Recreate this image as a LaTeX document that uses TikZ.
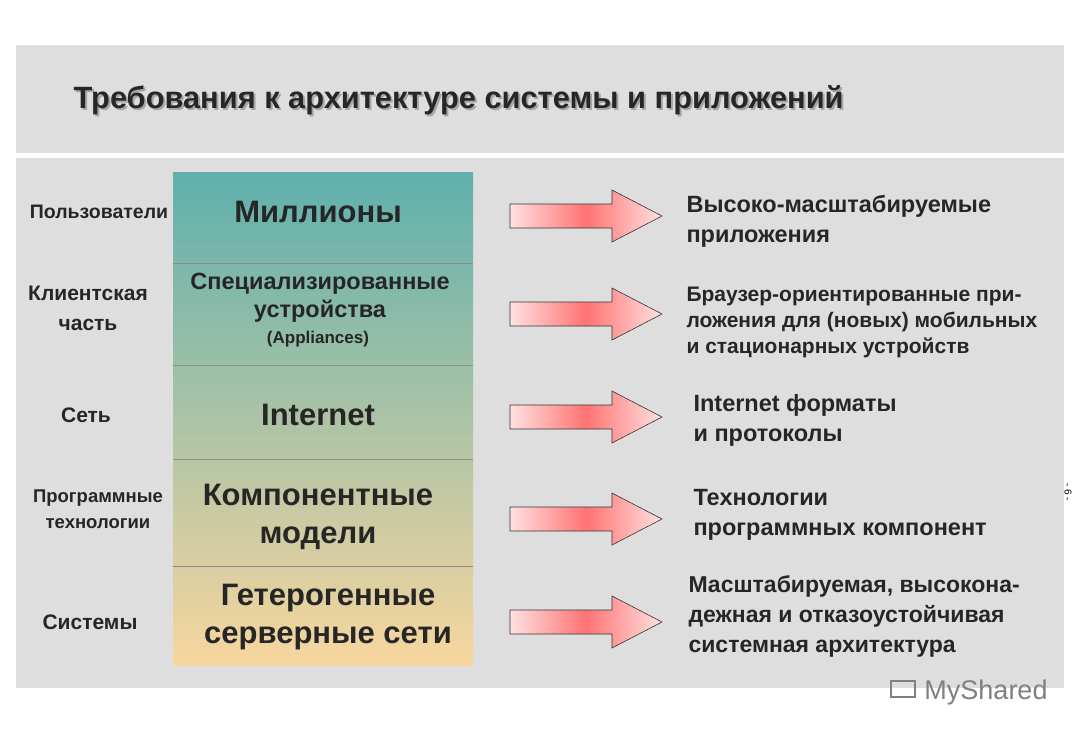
\documentclass[tikz,border=0pt]{standalone}
\usepackage{fontspec}
\setmainfont{Liberation Sans}
\begin{document}
\begin{tikzpicture}[x=1pt,y=-1pt,
  lab/.style={font=\bfseries\fontsize{20}{24}\selectfont, align=center, text=black!85},
  mid/.style={font=\bfseries\fontsize{31}{38}\selectfont, align=center, text=black!85},
  rtx/.style={font=\bfseries\fontsize{23.5}{30}\selectfont, align=left, anchor=west, text=black!85},
  row/.style={draw=black!45, line width=0.5pt},
  arr/.style={draw=black!80, line width=0.6pt, left color=red!12, right color=red!12, middle color=red!55}]
\useasboundingbox (0,0) rectangle (1080,740);
\fill[white] (0,0) rectangle (1080,740);
\fill[black!13] (16,45) rectangle (1064,153);
\fill[black!13] (16,158) rectangle (1064,688);
\node[anchor=west, text=black!35, font=\bfseries\fontsize{30.8}{34}\selectfont] at (72,102) {Требования к архитектуре системы и приложений};
\node[anchor=west, text=black!85, font=\bfseries\fontsize{30.8}{34}\selectfont] (title) at (70,100) {Требования к архитектуре системы и приложений};
% column
\shade[top color={rgb,255:red,95;green,176;blue,173}, bottom color={rgb,255:red,248;green,214;blue,158}] (173,172) rectangle (473,665);
\foreach \y in {263,365,459,566} \draw[row] (173,\y) -- (473,\y);
\node[mid] (m1) at (318,212) {Миллионы};
\node[font=\bfseries\fontsize{23.5}{28}\selectfont, align=center, text=black!85] (m2) at (320,298) {Специализированные\\ устройства};
\node[font=\bfseries\fontsize{17}{20}\selectfont, text=black!85] (m2b) at (318,339) {(Appliances)};
\node[mid] (m3) at (318,415) {Internet};
\node[mid] (m4) at (318,517) {Компонентные\\модели};
\node[mid] (m5) at (328,617) {Гетерогенные\\серверные сети};
% left labels
\node[lab, font=\bfseries\fontsize{19.5}{24}\selectfont] (l1) at (99,212) {Пользователи};
\node[lab, font=\bfseries\fontsize{21}{30}\selectfont] (l2) at (88,308) {Клиентская\\часть};
\node[lab, font=\bfseries\fontsize{21}{24}\selectfont] (l3) at (86,415) {Сеть};
\node[lab, font=\bfseries\fontsize{18.5}{26}\selectfont] (l4) at (98,509) {Программные\\технологии};
\node[lab, font=\bfseries\fontsize{21}{24}\selectfont] (l5) at (90,622) {Системы};
% arrows
\foreach \c in {216,314,417,519,622} {
  \path[arr] (510,\c-12) -- (612,\c-12) -- (612,\c-26) -- (662,\c) -- (612,\c+26) -- (612,\c+12) -- (510,\c+12) -- cycle;
}
% right texts
\node[rtx] (t1) at (683,221) {Высоко-масштабируемые\\приложения};
\node[rtx, font=\bfseries\fontsize{21}{26}\selectfont] (t2) at (683,322) {Браузер-ориентированные при-\\ложения для (новых) мобильных\\и стационарных устройств};
\node[rtx] (t3) at (690,420) {Internet форматы\\и протоколы};
\node[rtx] (t4) at (690,515) {Технологии\\программных компонент};
\node[rtx, font=\bfseries\fontsize{23}{30}\selectfont] (t5) at (685,616) {Масштабируемая, высокона-\\дежная и отказоустойчивая\\системная архитектура};
\node[rotate=-90, font=\fontsize{10}{11}\selectfont] (pg) at (1068,492) {- 6 -};
\node[text=black!50, font=\fontsize{27}{30}\selectfont] (logo) at (986,693) {MyShared};
\draw[black!50, line width=1.5pt] (891,681) rectangle (915,697);
\end{tikzpicture}
\end{document}
